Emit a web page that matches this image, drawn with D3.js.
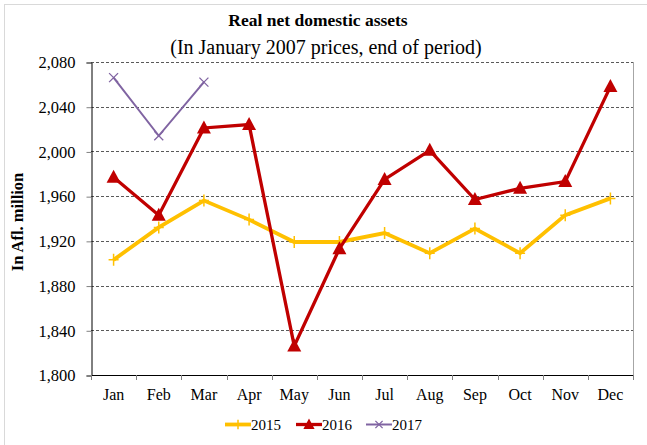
<!DOCTYPE html>
<html>
<head>
<meta charset="utf-8">
<script src="https://cdn.jsdelivr.net/npm/d3@7"></script>
<style>
  html, body { margin: 0; padding: 0; background: #fff; }
  svg { display: block; font-family: "Liberation Serif", "Times New Roman", serif; }
</style>
</head>
<body>
<svg id="chart" width="647" height="445"></svg>
<script>
// Monthly real net domestic assets, Afl. million (January 2007 prices)
const months = ["Jan", "Feb", "Mar", "Apr", "May", "Jun", "Jul", "Aug", "Sep", "Oct", "Nov", "Dec"];
const values2015 = [1903, 1932, 1956, 1939, 1919, 1919, 1927, 1909, 1931, 1909, 1943, 1958];
const values2016 = [1977, 1943, 2021, 2024, 1826, 1913, 1975, 2001, 1957, 1967, 1973, 2058];
const values2017 = [2066, 2014, 2062];
const yTicks = [1800, 1840, 1880, 1920, 1960, 2000, 2040, 2080];

const series = [
  { name: "2015", values: values2015, color: "#FFC000", width: 3.8, marker: "plus" },
  { name: "2016", values: values2016, color: "#C00000", width: 3.3, marker: "triangle" },
  { name: "2017", values: values2017, color: "#8064A2", width: 2, marker: "cross" }
];

const svg = d3.select("#chart");
const plot = { left: 91, right: 633, top: 62, bottom: 375 };
const serif = "Liberation Serif, Times New Roman, serif";

// outer chart frame
svg.append("rect")
  .attr("x", 4.5).attr("y", 4.5).attr("width", 660).attr("height", 460)
  .attr("fill", "none").attr("stroke", "#d9d9d9").attr("stroke-width", 1);

const x = d3.scaleBand().domain(months).range([plot.left, plot.right]);
const y = d3.scaleLinear().domain([1800, 2080]).range([plot.bottom, plot.top]);

// titles
svg.append("text").attr("x", 318).attr("y", 26).attr("text-anchor", "middle")
  .attr("font-size", 17.5).attr("font-weight", "bold").text("Real net domestic assets");
svg.append("text").attr("x", 326).attr("y", 54).attr("text-anchor", "middle")
  .attr("font-size", 20).text("(In January 2007 prices, end of period)");

// horizontal gridlines
svg.append("g").selectAll("line").data(yTicks.filter(d => d > 1800)).join("line")
  .attr("x1", plot.left).attr("x2", plot.right)
  .attr("y1", d => Math.round(y(d)) + 0.5).attr("y2", d => Math.round(y(d)) + 0.5)
  .attr("stroke", "#595959").attr("stroke-width", 1).attr("stroke-dasharray", "3,2");

// right plot border
svg.append("line").attr("x1", plot.right + 0.5).attr("x2", plot.right + 0.5)
  .attr("y1", plot.top).attr("y2", plot.bottom + 5)
  .attr("stroke", "#a6a6a6").attr("stroke-width", 1);

// y axis
const yAxis = svg.append("g").attr("transform", `translate(${plot.left + 0.5},0.5)`)
  .call(d3.axisLeft(y).tickValues(yTicks).tickFormat(d3.format(",")).tickSize(5).tickPadding(11));
yAxis.select(".domain").attr("stroke", "#000");
yAxis.selectAll(".tick line").attr("stroke", "#808080");
yAxis.selectAll("text").attr("font-size", 16.5).attr("fill", "#000")
  .attr("font-family", serif);

// x axis with ticks at category boundaries
svg.append("line").attr("x1", plot.left).attr("x2", plot.right + 1)
  .attr("y1", plot.bottom + 0.5).attr("y2", plot.bottom + 0.5).attr("stroke", "#000");
const bounds = months.map(m => x(m)).concat([plot.right]);
svg.append("g").selectAll("line").data(bounds).join("line")
  .attr("x1", d => Math.round(d) + 0.5).attr("x2", d => Math.round(d) + 0.5)
  .attr("y1", plot.bottom).attr("y2", plot.bottom + 5)
  .attr("stroke", "#808080");
svg.append("g").selectAll("text").data(months).join("text")
  .attr("x", d => x(d) + x.bandwidth() / 2).attr("y", 400)
  .attr("text-anchor", "middle").attr("font-size", 16).text(d => d);

// y axis title
svg.append("text").attr("transform", "translate(23,222) rotate(-90)")
  .attr("text-anchor", "middle").attr("font-size", 16.5).attr("font-weight", "bold")
  .text("In Afl. million");

const cx = i => x(months[i]) + x.bandwidth() / 2;

function drawMarker(g, kind, color, px, py, scale) {
  const s = scale || 1;
  if (kind === "plus") {
    g.append("path").attr("d", `M${px - 5 * s},${py}H${px + 5 * s}M${px},${py - 6 * s}V${py + 6 * s}`)
      .attr("stroke", color).attr("stroke-width", 1.5).attr("fill", "none");
  } else if (kind === "triangle") {
    g.append("path").attr("d", `M${px},${py - 7.5 * s}L${px + 7 * s},${py + 5.5 * s}L${px - 7 * s},${py + 5.5 * s}Z`)
      .attr("fill", color);
  } else {
    g.append("path").attr("d", `M${px - 4.5 * s},${py - 4.5 * s}L${px + 4.5 * s},${py + 4.5 * s}M${px - 4.5 * s},${py + 4.5 * s}L${px + 4.5 * s},${py - 4.5 * s}`)
      .attr("stroke", color).attr("stroke-width", 1.3).attr("fill", "none");
  }
}

const line = d3.line().x((d, i) => cx(i)).y(d => y(d));

series.forEach(s => {
  const g = svg.append("g");
  g.append("path").datum(s.values).attr("d", line)
    .attr("fill", "none").attr("stroke", s.color).attr("stroke-width", s.width)
    .attr("stroke-linejoin", "miter");
  s.values.forEach((v, i) => drawMarker(g, s.marker, s.color, cx(i), y(v)));
});

// legend
const legendItems = [
  { s: series[0], x0: 225 },
  { s: series[1], x0: 296 },
  { s: series[2], x0: 366 }
];
const ly = 424.5;
legendItems.forEach(({ s, x0 }) => {
  const g = svg.append("g");
  g.append("line").attr("x1", x0).attr("x2", x0 + 26).attr("y1", ly).attr("y2", ly)
    .attr("stroke", s.color).attr("stroke-width", s.width);
  drawMarker(g, s.marker, s.color, x0 + 13, ly, 0.8);
  g.append("text").attr("x", x0 + 26).attr("y", 429.5).attr("font-size", 15).text(s.name);
});
</script>
</body>
</html>
